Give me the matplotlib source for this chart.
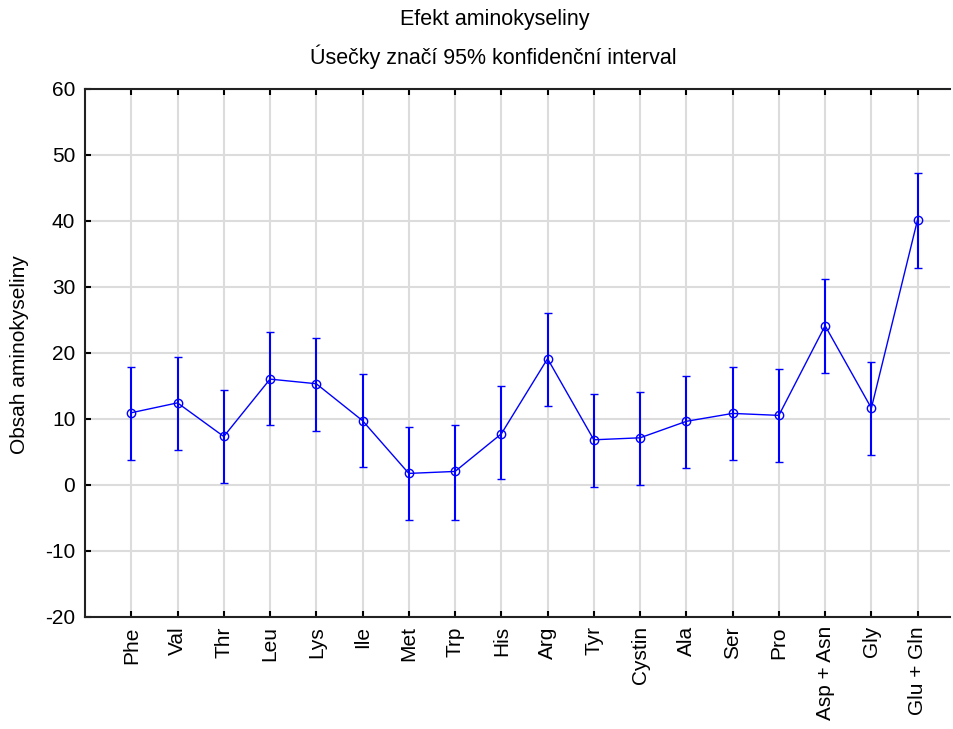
import matplotlib.pyplot as plt

plt.rcParams['font.family'] = ['Liberation Sans', 'DejaVu Sans']
plt.rcParams['axes.unicode_minus'] = False

# aminokyseliny a jejich prumery + 95% interval
kategorie = ["Phe", "Val", "Thr", "Leu", "Lys", "Ile", "Met", "Trp", "His", "Arg",
             "Tyr", "Cystin", "Ala", "Ser", "Pro", "Asp + Asn", "Gly", "Glu + Gln"]
prumer = [10.9, 12.4, 7.3, 16.0, 15.3, 9.7, 1.7, 2.0, 7.7, 19.1,
          6.8, 7.1, 9.6, 10.8, 10.5, 24.1, 11.6, 40.2]
dolni = [3.8, 5.3, 0.2, 9.0, 8.2, 2.7, -5.3, -5.3, 0.8, 12.0,
         -0.3, 0.0, 2.5, 3.7, 3.4, 17.0, 4.5, 32.9]
horni = [17.8, 19.3, 14.3, 23.1, 22.3, 16.8, 8.8, 9.0, 14.9, 26.1,
         13.8, 14.1, 16.5, 17.8, 17.6, 31.2, 18.6, 47.2]

x = list(range(len(kategorie)))
err_dole = [p - d for p, d in zip(prumer, dolni)]
err_nahore = [h - p for p, h in zip(prumer, horni)]

fig = plt.figure(figsize=(9.54, 7.29), dpi=100)
ax = fig.add_axes([85/954, 1 - 616.5/729, 865/954, (616.5 - 89)/729])

ax.errorbar(x, prumer, yerr=[err_dole, err_nahore], color="#0000ff", ecolor="#0000ff",
            elinewidth=1.5, capsize=3, capthick=1.5, linewidth=1, marker="o",
            markersize=6, markerfacecolor="none", markeredgecolor="#0000ff",
            markeredgewidth=1, zorder=3)

ax.set_xlim(-1, 17.7)
ax.set_ylim(-20, 60)
ax.set_yticks(range(-20, 61, 10))
ax.set_xticks(x)
ax.set_xticklabels(kategorie, rotation=90, fontsize=15)
ax.tick_params(axis="y", labelsize=15, direction="in", length=4, width=1.5, pad=7)
ax.tick_params(axis="x", direction="in", length=4, width=1.5, top=True, pad=7)
ax.grid(True, color="#dcdcdc", linewidth=1.5)
ax.set_axisbelow(True)

for s in ["left", "bottom", "top"]:
    ax.spines[s].set_linewidth(1.5)
    ax.spines[s].set_color("#222222")
ax.spines["right"].set_visible(False)

fig.text(20/954, 1 - 355/729, "Obsah aminokyseliny", rotation=90, ha="center", va="center", fontsize=15)

fig.text(495/954, 1 - 20/729, "Efekt aminokyseliny", ha="center", va="center", fontsize=15.5)
fig.text(493/954, 1 - 57/729, "Úsečky značí 95% konfidenční interval", ha="center", va="center", fontsize=15.5)

plt.savefig("out.png", dpi=100)
